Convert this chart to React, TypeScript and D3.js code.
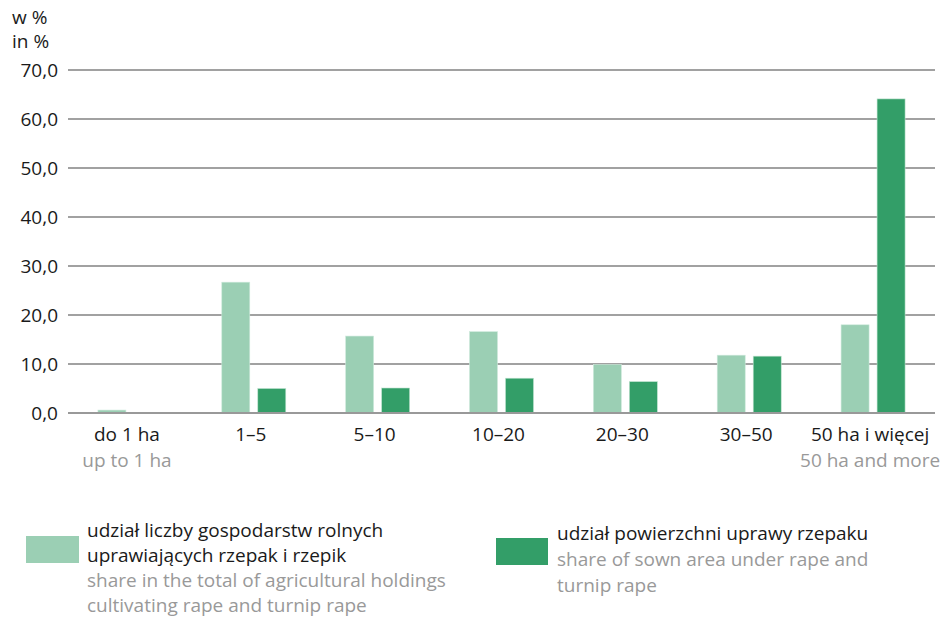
import React from "react";
import * as d3 from "d3";

const categories = ["do 1 ha", "1–5", "5–10", "10–20", "20–30", "30–50", "50 ha i więcej"];
const categoriesEn = ["up to 1 ha", "", "", "", "", "", "50 ha and more"];
const holdingsShare = [0.6, 26.7, 15.7, 16.6, 9.9, 11.8, 18.0];
const areaShare = [0.1, 5.0, 5.1, 7.1, 6.4, 11.6, 64.1];
const yTicks = [0, 10, 20, 30, 40, 50, 60, 70];

const LIGHT = "#9bcfb4";
const DARK = "#339e68";
const FONT = "'Open Sans', sans-serif";

export default function App() {
  const W = 948, H = 619;
  const left = 68, right = 935, top = 70, bottom = 413;
  const x = d3.scaleBand<string>().domain(categories).range([left, right]).paddingInner(0).paddingOuter(0);
  const y = d3.scaleLinear().domain([0, 70]).range([bottom, top]);
  const barW = 28, gap = 8;
  const fmt = (v: number) => v.toFixed(1).replace(".", ",");
  const fs = 19;

  return (
    <svg width={W} height={H} style={{ position: "absolute", left: 0, top: 0, background: "#fff" }} fontFamily={FONT}>
      <text x={12} y={24} fontSize={fs} fill="#1a1a1a">w %</text>
      <text x={12} y={48} fontSize={fs} fill="#1a1a1a">in %</text>
      {yTicks.map((t) => (
        <g key={t}>
          {t !== 0 && <line x1={left} x2={right} y1={y(t)} y2={y(t)} stroke="#444" strokeWidth={1.2} />}
          <text x={58} y={y(t)} dy="0.35em" textAnchor="end" fontSize={fs} fill="#1a1a1a">{fmt(t)}</text>
        </g>
      ))}
      {categories.map((c, i) => {
        const cx = (x(c) as number) + x.bandwidth() / 2;
        return (
          <g key={c}>
            <rect x={cx - gap / 2 - barW} y={y(holdingsShare[i])} width={barW} height={bottom - y(holdingsShare[i])} fill={LIGHT} stroke="#cfe9dc" strokeWidth={0.6} />
            <rect x={cx + gap / 2} y={y(areaShare[i])} width={barW} height={bottom - y(areaShare[i])} fill={DARK} stroke="#bfe3cf" strokeWidth={0.6} />
            <text x={cx - 3} y={441} textAnchor="middle" fontSize={fs} fill="#1a1a1a">{c}</text>
            {categoriesEn[i] && <text x={cx - 3} y={467} textAnchor="middle" fontSize={fs} fill="#999">{categoriesEn[i]}</text>}
          </g>
        );
      })}
      <line x1={left} x2={right} y1={bottom} y2={bottom} stroke="#999" strokeWidth={2} />
      <rect x={26} y={536} width={53} height={27} fill={LIGHT} />
      <text fontSize={fs} fill="#1a1a1a">
        <tspan x={87} y={537}>udział liczby gospodarstw rolnych</tspan>
        <tspan x={87} y={562}>uprawiających rzepak i rzepik</tspan>
      </text>
      <text fontSize={fs} fill="#999">
        <tspan x={87} y={587}>share in the total of agricultural holdings</tspan>
        <tspan x={87} y={612}>cultivating rape and turnip rape</tspan>
      </text>
      <rect x={496} y={538} width={52} height={27} fill={DARK} />
      <text fontSize={fs} fill="#1a1a1a">
        <tspan x={557} y={540}>udział powierzchni uprawy rzepaku</tspan>
      </text>
      <text fontSize={fs} fill="#999">
        <tspan x={557} y={566}>share of sown area under rape and</tspan>
        <tspan x={557} y={592}>turnip rape</tspan>
      </text>
    </svg>
  );
}
